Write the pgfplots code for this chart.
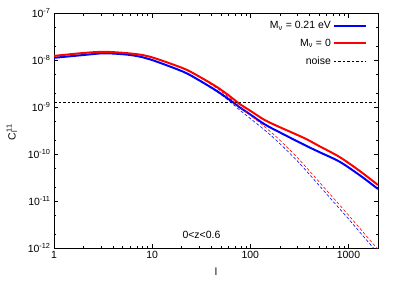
\documentclass[border=0pt]{standalone}
\usepackage{fontspec}
\setmainfont{Liberation Sans}
\usepackage{pgfplots}
\pgfplotsset{compat=1.18}
\begin{document}
\begin{tikzpicture}
\begin{axis}[
  scale only axis, width=324bp, height=235bp,
  xmode=log, ymode=log,
  xmin=1, xmax=2000, ymin=1e-12, ymax=1e-7,
  xtick={1,10,100,1000}, xticklabels={1,10,100,1000},
  ytick={1e-12,1e-11,1e-10,1e-9,1e-8,1e-7},
  yticklabels={10\textsuperscript{-12},10\textsuperscript{-11},10\textsuperscript{-10},10\textsuperscript{-9},10\textsuperscript{-8},10\textsuperscript{-7}},
  minor ytick={2e-12,5e-12,2e-11,5e-11,2e-10,5e-10,2e-9,5e-9,2e-8,5e-8},
  tick align=inside,
  major tick length=4.5bp, minor tick length=2.5bp,
  every tick/.style={black, line width=0.5pt},
  axis line style={line width=0.8pt},
  tick label style={font=\fontsize{10.5}{12}\selectfont},
  xlabel={l}, ylabel={C\rlap{\textsuperscript{11}}\textsubscript{l}},
  label style={font=\fontsize{10.5}{12}\selectfont},
  xlabel style={yshift=-2bp},
  ylabel style={at={(axis description cs:-0.13,0.48)}, anchor=center},
  legend style={draw=none, fill=none, at={(1,1)}, anchor=north east, xshift=-8bp, yshift=-4bp,
    font=\fontsize{10.5}{12}\selectfont, row sep=5bp},
  legend cell align=right,
  legend plot pos=right,
  legend image code/.code={\draw[#1] (0bp,0bp) -- (32bp,0bp);},
]
\addplot[blue, line width=2pt, smooth] coordinates {
(1,1.114e-8)(2,1.277e-8)(3.3,1.39e-8)(6,1.277e-8)(9.48,1.035e-8)(20.7,5.64e-9)(30,3.72e-9)(45.2,2.22e-9)(60,1.479e-9)(78,9.86e-10)(100,6.92e-10)(140,4.28e-10)(200,2.88e-10)(358,1.55e-10)(500,1.109e-10)(812,6.86e-11)(1300,3.55e-11)(2000,1.80e-11)};
\addlegendentry{M\textsubscript{ν} = 0.21 eV}
\addplot[red, line width=2pt, smooth] coordinates {
(1,1.222e-8)(2,1.41e-8)(3.3,1.494e-8)(6,1.375e-8)(9.48,1.175e-8)(20.7,6.66e-9)(30,4.47e-9)(45.2,2.70e-9)(60,1.778e-9)(78,1.159e-9)(100,8.32e-10)(140,5.29e-10)(200,3.72e-10)(358,2.16e-10)(500,1.486e-10)(812,8.63e-11)(1300,4.37e-11)(2000,2.19e-11)};
\addlegendentry{M\textsubscript{ν} = 0}
\addplot[black, line width=0.6pt, dash pattern=on 2.5bp off 2bp] coordinates {(1,1.26e-9)(2000,1.26e-9)};
\addlegendentry{noise}
\addplot[blue, line width=0.6pt, dash pattern=on 3bp off 2bp, smooth, forget plot] coordinates {
(20.7,5.64e-9)(30,3.63e-9)(45.2,2.138e-9)(60,1.380e-9)(78,8.61e-10)(140,3.236e-10)(200,1.66e-10)(318,6.31e-11)(653,1.148e-11)(812,6.84e-12)(1000,4.17e-12)(2000,7.67e-13)};
\addplot[red, line width=0.6pt, dash pattern=on 3bp off 2bp, smooth, forget plot] coordinates {
(20.7,6.66e-9)(30,4.365e-9)(45.2,2.535e-9)(60,1.633e-9)(78,1.014e-9)(140,3.81e-10)(200,1.968e-10)(318,7.45e-11)(653,1.374e-11)(812,8.22e-12)(1000,5.01e-12)(2000,9.29e-13)};
\node[font=\fontsize{10.5}{12}\selectfont] at (axis cs:31.8,1.9e-12) {0<z<0.6};
\end{axis}
\path ([shift={(-54bp,-36bp)}]current axis.south west) rectangle ([shift={(20bp,13bp)}]current axis.north east);
\end{tikzpicture}
\end{document}
